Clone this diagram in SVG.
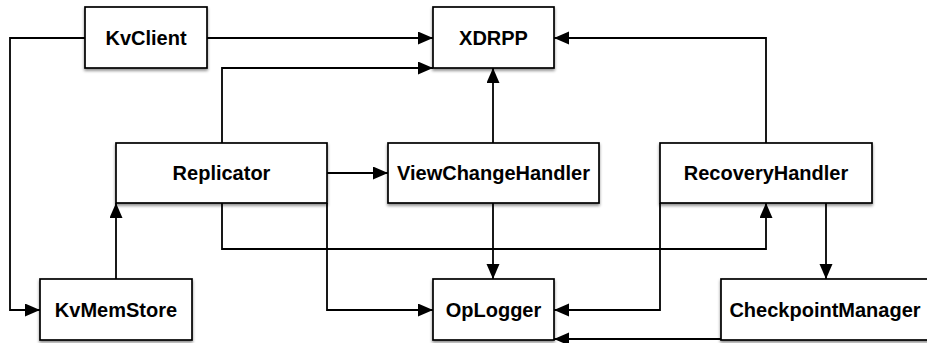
<svg xmlns="http://www.w3.org/2000/svg" width="927" height="343" viewBox="0 0 927 343">
<style>
.box{fill:#fff;stroke:#000;stroke-width:1.7;filter:url(#sh)}
.lbl{font-family:"Liberation Sans",Arial,sans-serif;font-weight:bold;font-size:20px;fill:#000;text-anchor:middle}
.c{fill:none;stroke:#000;stroke-width:1.8;marker-end:url(#ah)}
</style>
<defs>
<filter id="sh" x="-10%" y="-10%" width="120%" height="140%">
<feGaussianBlur in="SourceAlpha" stdDeviation="1.5"/>
<feOffset dx="0" dy="2" result="b"/>
<feComponentTransfer><feFuncA type="linear" slope="0.45"/></feComponentTransfer>
<feMerge><feMergeNode/><feMergeNode in="SourceGraphic"/></feMerge>
</filter>
<marker id="ah" markerUnits="userSpaceOnUse" markerWidth="16" markerHeight="14" refX="15" refY="6.5" orient="auto">
<path d="M0,0 L15,6.5 L0,13 z" fill="#000"/>
</marker>
</defs>
<g id="connectors">
<path class="c" d="M207,38 H433"/>
<path class="c" d="M222,143 V68 H433"/>
<path class="c" d="M493,143 V68"/>
<path class="c" d="M766,143 V38 H554"/>
<path class="c" d="M85,38 H10 V310 H40"/>
<path class="c" d="M116,279 V203"/>
<path class="c" d="M327,173 H388"/>
<path class="c" d="M222,203 V249 H766 V203"/>
<path class="c" d="M327,203 V310 H433"/>
<path class="c" d="M493,203 V279"/>
<path class="c" d="M660,203 V310 H554"/>
<path class="c" d="M826,203 V279"/>
<path class="c" d="M721,339 H554"/>
</g>
<g id="KvClient"><rect class="box" x="85" y="7" width="122" height="61"/><text class="lbl" x="146" y="44.5">KvClient</text></g>
<g id="XDRPP"><rect class="box" x="433" y="7" width="121" height="61"/><text class="lbl" x="493.5" y="44.5">XDRPP</text></g>
<g id="Replicator"><rect class="box" x="116" y="143" width="211" height="60"/><text class="lbl" x="221.5" y="180">Replicator</text></g>
<g id="ViewChangeHandler"><rect class="box" x="388" y="143" width="211" height="60"/><text class="lbl" x="493.5" y="180">ViewChangeHandler</text></g>
<g id="RecoveryHandler"><rect class="box" x="660" y="143" width="212" height="60"/><text class="lbl" x="766" y="180">RecoveryHandler</text></g>
<g id="KvMemStore"><rect class="box" x="40" y="279" width="152" height="61"/><text class="lbl" x="116" y="316.5">KvMemStore</text></g>
<g id="OpLogger"><rect class="box" x="433" y="279" width="121" height="61"/><text class="lbl" x="493.5" y="316.5">OpLogger</text></g>
<g id="CheckpointManager"><rect class="box" x="721" y="279" width="210" height="61"/><text class="lbl" x="825" y="316.5">CheckpointManager</text></g>
</svg>
